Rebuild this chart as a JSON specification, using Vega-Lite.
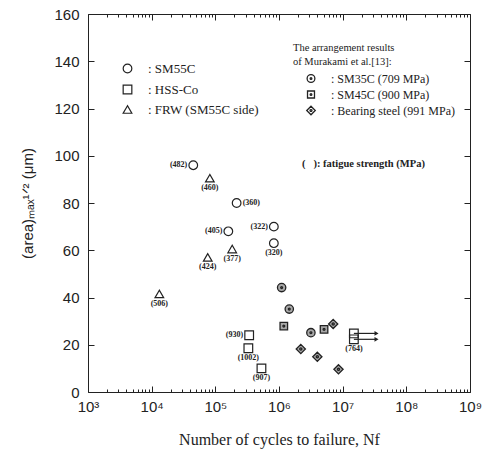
{
  "$schema": "https://vega.github.io/schema/vega-lite/v6.json",
  "width": 382,
  "height": 378,
  "autosize": "none",
  "padding": {"left": 88, "top": 14, "right": 12, "bottom": 63},
  "background": "white",
  "config": {
    "view": {"stroke": "#222", "strokeWidth": 1},
    "axis": {"grid": false, "domain": false, "tickColor": "#222", "tickWidth": 1, "labelColor": "#222", "titleColor": "#222"}
  },
  "datasets": {
    "open": [
      {"group": "SM55C", "N": 45000, "a": 96, "label": "(482)"},
      {"group": "FRW", "N": 82000, "a": 90.5, "label": "(460)"},
      {"group": "SM55C", "N": 216000, "a": 80, "label": "(360)"},
      {"group": "SM55C", "N": 160000, "a": 68, "label": "(405)"},
      {"group": "SM55C", "N": 830000, "a": 70, "label": "(322)"},
      {"group": "SM55C", "N": 830000, "a": 63, "label": "(320)"},
      {"group": "FRW", "N": 184000, "a": 60.5, "label": "(377)"},
      {"group": "FRW", "N": 76000, "a": 57, "label": "(424)"},
      {"group": "FRW", "N": 13200, "a": 41.5, "label": "(506)"},
      {"group": "HSS-Co", "N": 340000, "a": 24, "label": "(930)"},
      {"group": "HSS-Co", "N": 330000, "a": 18.5, "label": "(1002)"},
      {"group": "HSS-Co", "N": 530000, "a": 10, "label": "(907)"},
      {"group": "HSS-Co", "N": 15000000, "a": 24.8, "label": "", "runout": 34000000},
      {"group": "HSS-Co", "N": 15000000, "a": 22.3, "label": "(764)", "runout": 34000000}
    ],
    "murakami": [
      {"grp": "SM35C", "N": 1100000, "a": 44.2},
      {"grp": "SM35C", "N": 1450000, "a": 35.1},
      {"grp": "SM35C", "N": 3170000, "a": 25.1},
      {"grp": "SM45C", "N": 1190000, "a": 27.9},
      {"grp": "SM45C", "N": 5100000, "a": 26.5},
      {"grp": "Bearing steel", "N": 7100000, "a": 28.8},
      {"grp": "Bearing steel", "N": 2200000, "a": 18.2},
      {"grp": "Bearing steel", "N": 4000000, "a": 14.9},
      {"grp": "Bearing steel", "N": 8600000, "a": 9.6}
    ],
    "decades": [{"N": 1000, "a": 0}, {"N": 10000, "a": 20}, {"N": 100000, "a": 40}, {"N": 1000000, "a": 60}, {"N": 10000000, "a": 80}, {"N": 100000000, "a": 100}, {"N": 1000000000, "a": 120}]
  },
  "encoding": {
    "x": {"field": "N", "type": "quantitative", "scale": {"type": "log", "domain": [1000, 1000000000]}, "axis": null},
    "y": {"field": "a", "type": "quantitative", "scale": {"domain": [0, 160], "nice": false}, "axis": null}
  },
  "layer": [
    {
      "data": {"name": "open"},
      "mark": {"type": "point", "filled": false, "stroke": "#222", "strokeWidth": 1.2, "size": 75, "opacity": 1},
      "encoding": {
        "x": {"field": "N", "type": "quantitative", "scale": {"type": "log", "domain": [1000, 1000000000]},
          "axis": {
            "orient": "bottom",
            "offset": -6,
            "values": [1000, 10000, 100000, 1000000, 10000000, 100000000, 1000000000],
            "labelExpr": "'10' + ['³','⁴','⁵','⁶','⁷','⁸','⁹'][round(log(datum.value)/LN10) - 3]",
            "tickSize": 6,
            "labelOverlap": false,
            "labelFlush": false,
            "labelFont": "Liberation Sans",
            "labelFontSize": 15,
            "labelPadding": 7,
            "title": "Number of cycles to failure, Nf",
            "titleFont": "Liberation Serif",
            "titleFontSize": 16,
            "titleFontWeight": "normal",
            "titlePadding": 17
          }
        },
        "y": {"field": "a", "type": "quantitative", "scale": {"domain": [0, 160], "nice": false},
          "axis": {
            "orient": "left",
            "offset": -6,
            "values": [0,20,40,60,80,100,120,140,160],
            "tickSize": 6,
            "labelFont": "Liberation Sans",
            "labelFontSize": 15,
            "labelPadding": 9,
            "title": "(area)ₘₐₓ¹ᐟ²  (μm)",
            "titleFont": "Liberation Sans",
            "titleFontSize": 15,
            "titleFontWeight": "normal",
            "titlePadding": 18
          }
        },
        "shape": {"field": "group", "type": "nominal",
          "scale": {"domain": ["SM55C", "HSS-Co", "FRW"], "range": ["circle", "square", "triangle-up"]},
          "legend": {
            "orient": "none", "legendX": 33, "legendY": 48, "title": null,
            "labelExpr": "datum.label == 'SM55C' ? ': SM55C' : datum.label == 'HSS-Co' ? ': HSS-Co' : ': FRW  (SM55C side)'",
            "labelFont": "Liberation Serif", "labelFontSize": 13, "labelColor": "#222",
            "labelOffset": 14, "rowPadding": 6, "symbolSize": 75,
            "symbolStrokeColor": "#222", "symbolFillColor": "transparent", "symbolStrokeWidth": 1.2
          }
        }
      }
    },
    {
      "data": {"name": "murakami"},
      "mark": {"type": "point", "filled": true, "color": "#a8a8a8", "size": 70, "opacity": 1},
      "encoding": {
        "shape": {"field": "grp", "type": "nominal",
          "scale": {"domain": ["SM35C", "SM45C", "Bearing steel"],
            "range": [
              "M-1,0A1,1,0,1,1,1,0A1,1,0,1,1,-1,0Z",
              "M-0.9,-0.9H0.9V0.9H-0.9Z",
              "M0,-1.1L1.1,0L0,1.1L-1.1,0Z"
            ]},
          "legend": null
        }
      }
    },
    {
      "data": {"name": "murakami"},
      "mark": {"type": "point", "filled": false, "stroke": "#222", "strokeWidth": 1.3, "size": 70, "opacity": 1},
      "encoding": {
        "shape": {"field": "grp", "type": "nominal",
          "scale": {"domain": ["SM35C", "SM45C", "Bearing steel"],
            "range": [
              "M-1,0A1,1,0,1,1,1,0A1,1,0,1,1,-1,0Z M-0.22,0A0.22,0.22,0,1,1,0.22,0A0.22,0.22,0,1,1,-0.22,0Z",
              "M-0.9,-0.9H0.9V0.9H-0.9Z M-0.22,0A0.22,0.22,0,1,1,0.22,0A0.22,0.22,0,1,1,-0.22,0Z",
              "M0,-1.1L1.1,0L0,1.1L-1.1,0Z M-0.25,0A0.25,0.25,0,1,1,0.25,0A0.25,0.25,0,1,1,-0.25,0Z"
            ]},
          "legend": {
            "orient": "none", "legendX": 205, "legendY": 29,
            "title": ["The arrangement results", "   of Murakami et al.[13]:"],
            "titleFont": "Liberation Serif", "titleFontSize": 10.5, "titleFontWeight": "normal", "titleColor": "#222",
            "titleLineHeight": 14, "titlePadding": 5,
            "labelExpr": "datum.label == 'SM35C' ? ': SM35C  (709 MPa)' : datum.label == 'SM45C' ? ': SM45C  (900 MPa)' : ': Bearing steel  (991 MPa)'",
            "labelFont": "Liberation Serif", "labelFontSize": 12, "labelColor": "#222",
            "labelOffset": 14, "rowPadding": 2, "symbolSize": 60, "symbolOffset": 12,
            "symbolStrokeColor": "#222", "symbolFillColor": "#a8a8a8", "symbolStrokeWidth": 1.3
          }
        }
      }
    },
    {
      "data": {"name": "open"},
      "transform": [{"filter": "datum.runout > 0"}],
      "mark": {"type": "rule", "stroke": "#222", "strokeWidth": 1.2},
      "encoding": {"x2": {"field": "runout"}}
    },
    {
      "data": {"name": "open"},
      "transform": [{"filter": "datum.runout > 0"}],
      "mark": {"type": "point", "shape": "triangle-right", "filled": true, "color": "#222", "size": 22, "opacity": 1},
      "encoding": {"x": {"field": "runout", "type": "quantitative", "scale": {"type": "log", "domain": [1000, 1000000000]}, "axis": null}}
    },
    {
      "data": {"name": "open"},
      "transform": [{"filter": "indexof(['(482)','(405)','(322)','(930)'], datum.label) >= 0"}],
      "mark": {"type": "text", "align": "right", "baseline": "middle", "dx": -6, "font": "Liberation Serif", "fontSize": 8, "fontWeight": "bold", "color": "#222"},
      "encoding": {"text": {"field": "label"}}
    },
    {
      "data": {"name": "open"},
      "transform": [{"filter": "datum.label == '(360)'"}],
      "mark": {"type": "text", "align": "left", "baseline": "middle", "dx": 6, "font": "Liberation Serif", "fontSize": 8, "fontWeight": "bold", "color": "#222"},
      "encoding": {"text": {"field": "label"}}
    },
    {
      "data": {"name": "open"},
      "transform": [{"filter": "datum.label != '' && indexof(['(482)','(405)','(322)','(930)','(360)'], datum.label) < 0"}],
      "mark": {"type": "text", "align": "center", "baseline": "top", "dy": 6, "font": "Liberation Serif", "fontSize": 8, "fontWeight": "bold", "color": "#222"},
      "encoding": {"text": {"field": "label"}}
    },
    {
      "data": {"name": "decades"},
      "transform": [{"filter": "datum.N == 1000"}],
      "mark": {"type": "text", "align": "left", "baseline": "middle", "font": "Liberation Serif", "fontSize": 10.5, "fontWeight": "bold", "color": "#222"},
      "encoding": {
        "x": {"datum": 2300000, "type": "quantitative", "scale": {"type": "log", "domain": [1000, 1000000000]}, "axis": null},
        "y": {"datum": 96.5, "type": "quantitative", "scale": {"domain": [0, 160], "nice": false}, "axis": null},
        "text": {"value": "(\u00a0\u00a0\u00a0): fatigue strength (MPa)"}
      }
    },
    {
      "data": {"name": "decades"},
      "mark": {"type": "point", "opacity": 0},
      "encoding": {
        "x": {"field": "N", "type": "quantitative", "scale": {"type": "log", "domain": [1000, 1000000000]},
          "axis": {"orient": "top", "offset": -6, "tickSize": 6, "values": [1000, 10000, 100000, 1000000, 10000000, 100000000, 1000000000], "labels": false, "title": null}
        },
        "y": {"field": "a", "type": "quantitative", "scale": {"domain": [0, 160], "nice": false},
          "axis": {"orient": "right", "offset": -6, "tickSize": 6, "values": [0,20,40,60,80,100,120,140,160], "labels": false, "title": null}
        }
      }
    },
    {
      "data": {"name": "decades"},
      "mark": {"type": "point", "opacity": 0},
      "encoding": {
        "x": {"field": "N", "type": "quantitative", "scale": {"type": "log", "domain": [1000, 1000000000]},
          "axis": {"orient": "bottom", "offset": -3, "tickSize": 3, "labels": false, "title": null,
            "values": [2000,3000,4000,5000,6000,7000,8000,9000,20000,30000,40000,50000,60000,70000,80000,90000,200000,300000,400000,500000,600000,700000,800000,900000,2000000,3000000,4000000,5000000,6000000,7000000,8000000,9000000,20000000,30000000,40000000,50000000,60000000,70000000,80000000,90000000,200000000,300000000,400000000,500000000,600000000,700000000,800000000,900000000]}
        }
      }
    },
    {
      "data": {"name": "decades"},
      "mark": {"type": "point", "opacity": 0},
      "encoding": {
        "x": {"field": "N", "type": "quantitative", "scale": {"type": "log", "domain": [1000, 1000000000]},
          "axis": {"orient": "top", "offset": -3, "tickSize": 3, "labels": false, "title": null,
            "values": [2000,3000,4000,5000,6000,7000,8000,9000,20000,30000,40000,50000,60000,70000,80000,90000,200000,300000,400000,500000,600000,700000,800000,900000,2000000,3000000,4000000,5000000,6000000,7000000,8000000,9000000,20000000,30000000,40000000,50000000,60000000,70000000,80000000,90000000,200000000,300000000,400000000,500000000,600000000,700000000,800000000,900000000]}
        }
      }
    }
  ],
  "resolve": {"scale": {"shape": "independent"}, "axis": {"x": "independent", "y": "independent"}}
}
